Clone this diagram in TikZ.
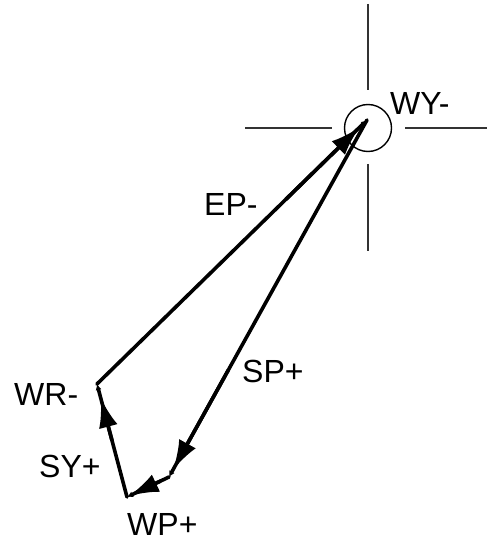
\documentclass[tikz,border=0pt]{standalone}
\usepackage{fontspec}
\setmainfont{Liberation Sans}
\usetikzlibrary{arrows.meta,calc}

\begin{document}
\begin{tikzpicture}[x=1pt,y=-1pt,
  vec/.style={line width=3.6pt, line cap=round, -{Latex[length=6pt,width=6pt]}},
  head/.style={line width=3.6pt, -{Latex[length=30pt,width=19pt]}},
  hair/.style={line width=1.5pt, color=black!80},
  lbl/.style={anchor=base west, inner sep=0pt, font=\fontsize{32}{38}\selectfont},
]
  \useasboundingbox (0,0) rectangle (487,548);

  % crosshair round WY
  \node[circle, draw, line width=1.4pt, minimum size=47pt, inner sep=0pt] (ring) at (368,128) {};
  \draw[hair] (368,4) -- (368,90);
  \draw[hair] (368,164) -- (368,251);
  \draw[hair] (245,128) -- (332,128);
  \draw[hair] (405,128) -- (487,128);

  \coordinate (wy) at (367,120);
  \coordinate (bend) at (169,477);
  \coordinate (wp) at (127,497);
  \coordinate (wr) at (97,384);

  \draw[vec] (wy) -- (bend);
  \draw[vec] (bend) -- (wp);
  \draw[vec] (wp) -- (wr);
  \draw[vec] (wr) -- (wy);

  % heads set back from the ends
  \draw[head] ($(wy)!0.7!(bend)$) -- ($(bend)!8pt!(wy)$);
  \draw[head] ($(bend)!0.2!(wp)$) -- ($(wp)!2pt!(bend)$);
  \draw[head] ($(wp)!0.5!(wr)$) -- ($(wr)!14pt!(wp)$);
  \draw[head] ($(wr)!0.7!(wy)$) -- ($(wy)!10pt!(wr)$);

  \node[lbl] (wylbl) at (390,115) {WY-};
  \node[lbl] (eplbl) at (204,215) {EP-};
  \node[lbl] (wrlbl) at (14,405) {WR-};
  \node[lbl] (splbl) at (242,382) {SP+};
  \node[lbl] (sylbl) at (39,477) {SY+};
  \node[lbl] (wplbl) at (127,535) {WP+};
\end{tikzpicture}
\end{document}
